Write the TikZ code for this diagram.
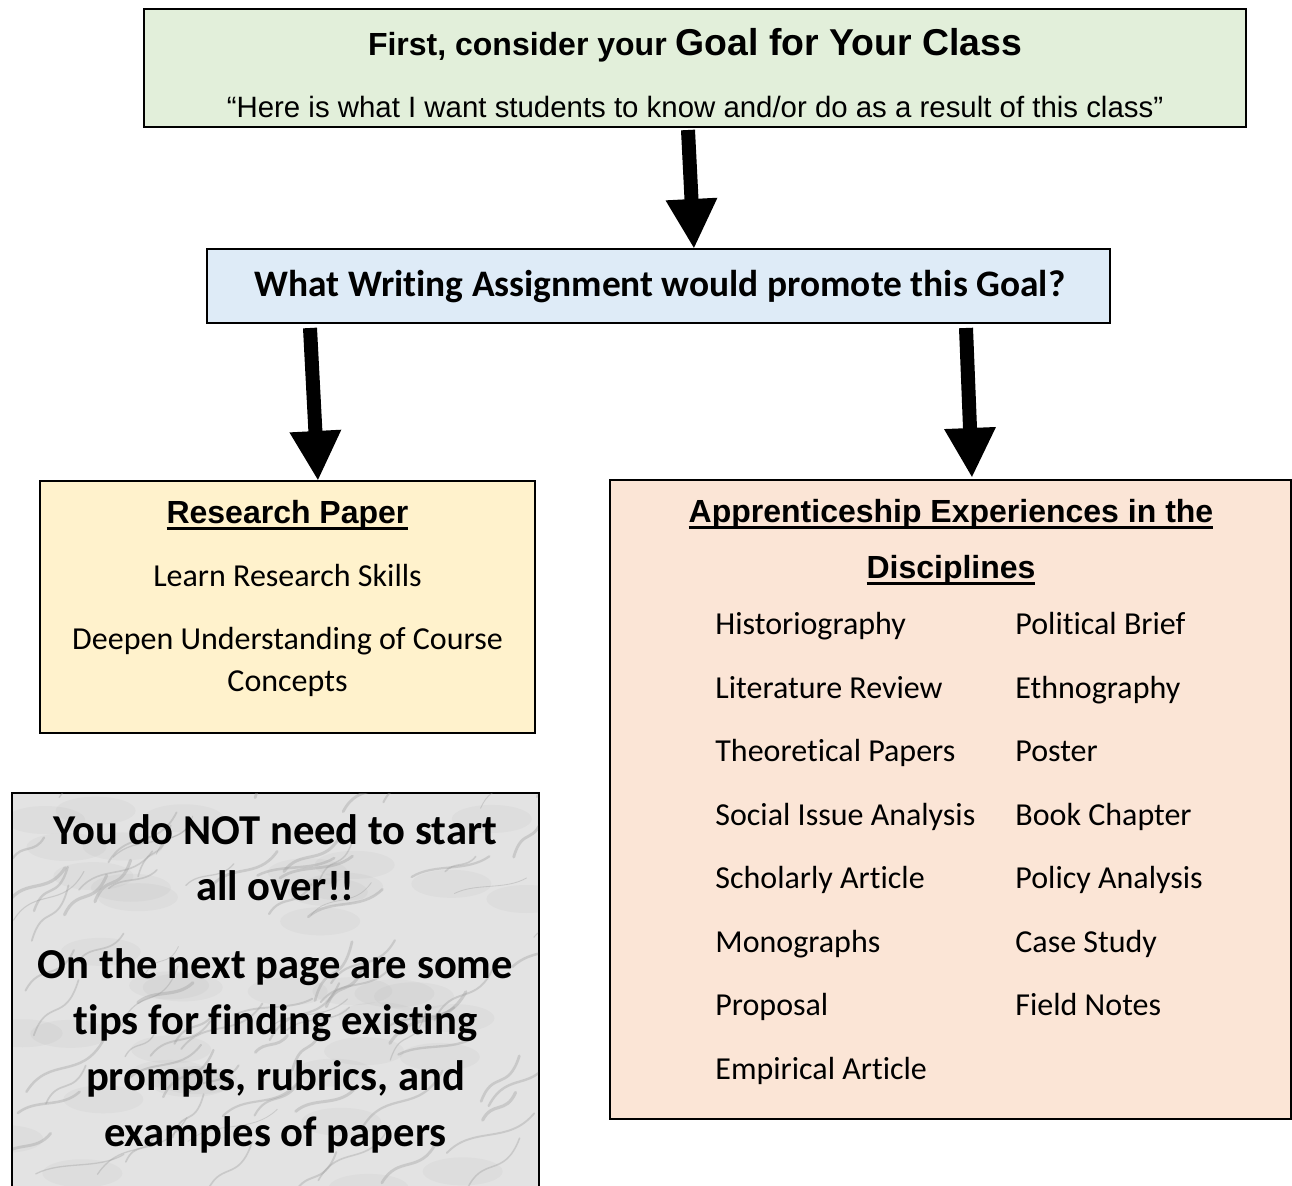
\documentclass[tikz,border=0pt]{standalone}
\usepackage{fontspec}
\usetikzlibrary{arrows.meta}
\setmainfont{Carlito}[Ligatures=NoCommon]
\newfontfamily\arialfont{Liberation Sans}
\definecolor{goalgreen}{HTML}{E2EFDA}
\definecolor{questblue}{HTML}{DEEBF7}
\definecolor{papyellow}{HTML}{FFF2CC}
\definecolor{apprpeach}{HTML}{FBE5D6}
\definecolor{marblegray}{HTML}{E3E3E3}
\newcommand\undl[1]{\setbox0\hbox{#1}\rlap{\rule[-3.2pt]{\wd0}{1.6pt}}\box0}
\begin{document}
\begin{tikzpicture}[x=0.5pt,y=-0.5pt]
  \tikzset{box/.style={draw,line width=1pt,inner sep=0pt,outer sep=0pt}}
  \tikzset{bigarrow/.style={line width=7pt,-{Triangle[length=25pt,width=24pt]}}}
  \tikzset{txt/.style={inner sep=0pt,anchor=mid,yshift=-4pt}}
  \tikzset{item/.style={inner sep=0pt,anchor=mid west,yshift=-4pt,font=\fontsize{16}{19}\selectfont}}
  \tikzset{tipline/.style={txt,yshift=-0.5pt,font=\bfseries\fontsize{21.3}{25}\selectfont}}
  \useasboundingbox (0,0) rectangle (1292,1186);
  \clip (0,0) rectangle (1292,1186);
  % boxes
  \node[box,fill=goalgreen,minimum width=551pt,minimum height=59pt] (goalbox) at (695,68) {};
  \node[box,fill=questblue,minimum width=451.5pt,minimum height=37pt] (questbox) at (658.5,286) {};
  \node[box,fill=papyellow,minimum width=247.5pt,minimum height=126pt] (paperbox) at (287.5,607) {};
  \node[box,fill=apprpeach,minimum width=340.5pt,minimum height=319.5pt] (apprbox) at (950.5,799.5) {};
  \node[box,fill=marblegray,minimum width=263.5pt,minimum height=210pt] (marblebox) at (275.5,1003) {};
  % marble veins
  \begin{scope}
    \clip (13,794) rectangle (538,1186);
    \pgfmathsetseed{11}
    \foreach \i in {1,...,40}{
      \pgfmathsetmacro{\vx}{rnd*560}
      \pgfmathsetmacro{\vy}{790+rnd*420}
      \fill[gray!60,opacity=0.12] (\vx,\vy) ellipse (20pt and 7pt);
    }
    \foreach \i in {1,...,90}{
      \pgfmathsetmacro{\vx}{rnd*560}
      \pgfmathsetmacro{\vy}{790+rnd*420}
      \pgfmathsetmacro{\vdx}{30+rnd*60}
      \pgfmathsetmacro{\vdy}{-15-rnd*45}
      \pgfmathsetmacro{\vw}{0.4+rnd*1.2}
      \draw[gray!80,line width=\vw pt,opacity=0.35,line cap=round]
        (\vx,\vy) .. controls (\vx+\vdx*0.3,\vy+\vdy*0.7) and (\vx+\vdx*0.7,\vy+\vdy*0.2) .. (\vx+\vdx,\vy+\vdy);
    }
  \end{scope}
  % texts
  \node[txt,font=\arialfont\bfseries] (goaltitle) at (695,43)
    {\fontsize{16}{19}\selectfont First, consider your \fontsize{18.7}{22}\selectfont Goal for Your Class};
  \node[txt,font=\arialfont\fontsize{14.7}{17}\selectfont] (goalquote) at (695,105)
    {“Here is what I want students to know and/or do as a result of this class”};
  \node[txt,font=\bfseries\fontsize{18.7}{22}\selectfont] (questtext) at (660,284)
    {What Writing Assignment would promote this Goal?};
  \node[txt,font=\arialfont\bfseries\fontsize{16}{19}\selectfont] (papertitle) at (287.5,511) {\undl{Research Paper}};
  \node[txt,font=\fontsize{16}{19}\selectfont] (skills) at (287.5,574) {Learn Research Skills};
  \node[txt,font=\fontsize{16}{19}\selectfont] (deepen) at (287.5,637) {Deepen Understanding of Course};
  \node[txt,font=\fontsize{16}{19}\selectfont] (concepts) at (287.5,679) {Concepts};
  \node[txt,font=\arialfont\bfseries\fontsize{16}{19}\selectfont] (apprtitle) at (951,510) {\undl{Apprenticeship Experiences in the}};
  \node[txt,font=\arialfont\bfseries\fontsize{16}{19}\selectfont] (disciplines) at (951,566) {\undl{Disciplines}};
  \node[item] (historio) at (715,622) {Historiography};
  \node[item] (litreview) at (715,686) {Literature Review};
  \node[item] (theory) at (715,749) {Theoretical Papers};
  \node[item] (social) at (715,813) {Social Issue Analysis};
  \node[item] (scholarly) at (715,876) {Scholarly Article};
  \node[item] (monographs) at (715,940) {Monographs};
  \node[item] (proposal) at (715,1003) {Proposal};
  \node[item] (empirical) at (715,1067) {Empirical Article};
  \node[item] (brief) at (1015,622) {Political Brief};
  \node[item] (ethno) at (1015,686) {Ethnography};
  \node[item] (poster) at (1015,749) {Poster};
  \node[item] (chapter) at (1015,813) {Book Chapter};
  \node[item] (policy) at (1015,876) {Policy Analysis};
  \node[item] (casestudy) at (1015,940) {Case Study};
  \node[item] (fieldnotes) at (1015,1003) {Field Notes};
  \node[tipline] (notstart) at (275.5,831) {You do NOT need to start};
  \node[tipline] (allover) at (275.5,887) {all over!!};
  \node[tipline] (nextpage) at (275.5,965) {On the next page are some};
  \node[tipline] (tips) at (275.5,1021) {tips for finding existing};
  \node[tipline] (prompts) at (275.5,1077) {prompts, rubrics, and};
  \node[tipline] (examples) at (275.5,1133) {examples of papers};
  % arrows
  \draw[bigarrow] ([xshift=-3.5pt,yshift=-1.5pt]goalbox.south) -- ([xshift=17.75pt]questbox.north);
  \draw[bigarrow] ([xshift=-174.25pt,yshift=-2.5pt]questbox.south) -- ([xshift=15.25pt]paperbox.north);
  \draw[bigarrow] ([xshift=153.75pt,yshift=-2.5pt]questbox.south) -- ([xshift=10.75pt,yshift=1pt]apprbox.north);
\end{tikzpicture}
\end{document}
